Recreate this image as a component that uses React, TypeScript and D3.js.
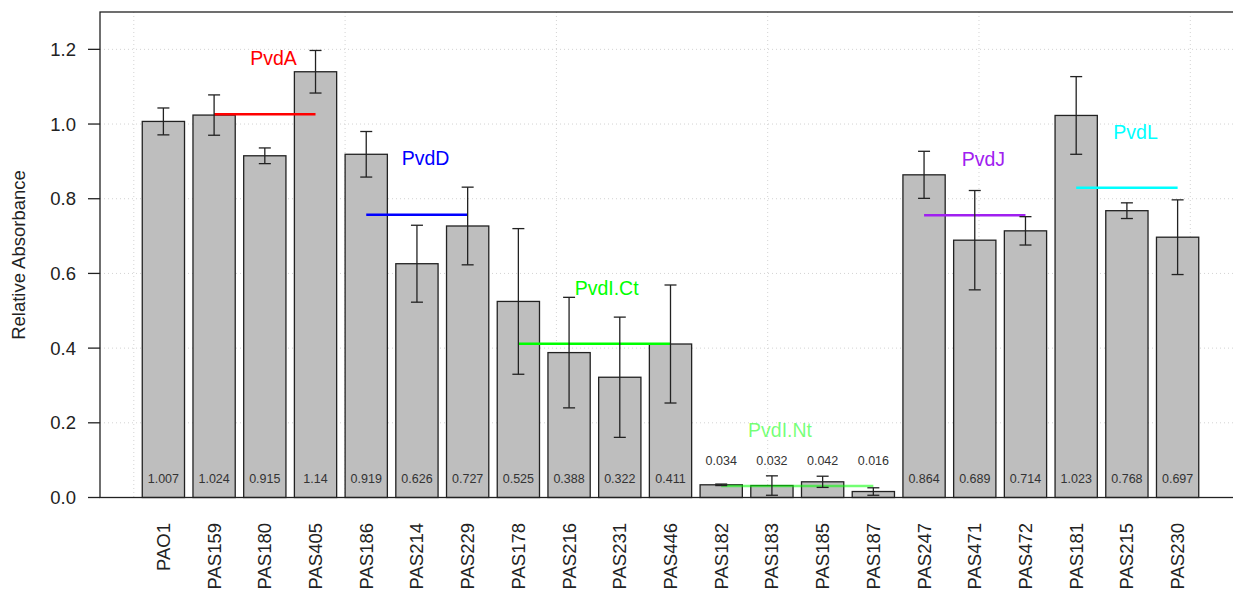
import React from 'react';
import * as d3 from 'd3';

// strains, in plotting order
const samples = [
  'PAO1', 'PAS159', 'PAS180', 'PAS405', 'PAS186', 'PAS214', 'PAS229',
  'PAS178', 'PAS216', 'PAS231', 'PAS446', 'PAS182', 'PAS183', 'PAS185',
  'PAS187', 'PAS247', 'PAS471', 'PAS472', 'PAS181', 'PAS215', 'PAS230',
];
const means = [
  1.007, 1.024, 0.915, 1.14, 0.919, 0.626, 0.727,
  0.525, 0.388, 0.322, 0.411, 0.034, 0.032, 0.042,
  0.016, 0.864, 0.689, 0.714, 1.023, 0.768, 0.697,
];
const errors = [
  0.036, 0.054, 0.021, 0.057, 0.061, 0.103, 0.104,
  0.195, 0.148, 0.161, 0.158, 0.002, 0.026, 0.015,
  0.010, 0.063, 0.133, 0.038, 0.104, 0.021, 0.100,
];

// pyoverdine groups (first / last bar index)
const groupNames = ['PvdA', 'PvdD', 'PvdI.Ct', 'PvdI.Nt', 'PvdJ', 'PvdL'];
const groupStart = [1, 4, 7, 11, 15, 18];
const groupEnd = [3, 6, 10, 14, 17, 20];
const groupColors = ['#FF0000', '#0000FF', '#00FF00', '#00FF00', '#A020F0', '#00FFFF'];
const groupAlpha = [1, 1, 1, 0.55, 1, 1];
const labelNudge = [0.17, 0.17, 0.24, -0.34, 0.17, 0.17]; // in bar-index units

const yTicks = [0, 0.2, 0.4, 0.6, 0.8, 1.0, 1.2];
const xGrid = [0, 5, 10, 15, 20, 25];

const W = 1233;
const H = 591;
const FONT = '"Liberation Sans", Arial, Helvetica, sans-serif';

const App = () => {
  // barplot units: width 1, space 0.2
  const x = d3.scaleLinear().domain([-0.8, 26.2]).range([100, 1241]);
  const y = d3.scaleLinear().domain([0, 1.3]).range([497.5, 12]);
  const mid = (i: number) => 0.7 + 1.2 * i;
  const bw = x(1) - x(0);

  const groupMean = (g: number) =>
    d3.mean(means.slice(groupStart[g], groupEnd[g] + 1)) as number;

  return (
    <div style={{ position: 'absolute', left: 0, top: 0 }}>
      <svg width={W} height={H} style={{ display: 'block', background: '#fff' }} fontFamily={FONT}>
        {/* grid */}
        {yTicks.map(t => (
          <line key={'gy' + t} x1={100} x2={1241} y1={y(t)} y2={y(t)}
            stroke="#D3D3D3" strokeDasharray="1,3" />
        ))}
        {xGrid.map(t => (
          <line key={'gx' + t} x1={x(t)} x2={x(t)} y1={12} y2={497.5}
            stroke="#D3D3D3" strokeDasharray="1,3" />
        ))}

        {/* bars */}
        {means.map((m, i) => (
          <rect key={'b' + i} x={x(mid(i)) - bw / 2} y={y(m)} width={bw} height={y(0) - y(m)}
            fill="#BEBEBE" stroke="#222" strokeWidth={1.3} />
        ))}

        {/* group mean lines */}
        {groupNames.map((g, k) => (
          <line key={'gl' + g} x1={x(mid(groupStart[k]))} x2={x(mid(groupEnd[k]))}
            y1={y(groupMean(k))} y2={y(groupMean(k))}
            stroke={groupColors[k]} strokeOpacity={groupAlpha[k]} strokeWidth={2.5} />
        ))}

        {/* error bars */}
        {means.map((m, i) => {
          const cx = x(mid(i));
          const top = y(m + errors[i]);
          const bot = y(Math.max(0, m - errors[i]));
          return (
            <g key={'e' + i} stroke="#222" strokeWidth={1.3}>
              <line x1={cx} x2={cx} y1={top} y2={bot} />
              <line x1={cx - 6} x2={cx + 6} y1={top} y2={top} />
              <line x1={cx - 6} x2={cx + 6} y1={bot} y2={bot} />
            </g>
          );
        })}

        {/* value labels */}
        {means.map((m, i) => (
          <text key={'v' + i} x={x(mid(i))} y={y(m > 0.1 ? 0.05 : 0.1)} dy="0.35em"
            textAnchor="middle" fontSize={12.5} fill="#333">
            {m}
          </text>
        ))}

        {/* group labels */}
        {groupNames.map((g, k) => (
          <text key={'gt' + g}
            x={x(mid((groupStart[k] + groupEnd[k]) / 2 + labelNudge[k]))}
            y={y(groupMean(k) + 0.15)} dy="0.35em" textAnchor="middle"
            fontSize={19.5} fill={groupColors[k]} fillOpacity={groupAlpha[k]}>
            {g}
          </text>
        ))}

        {/* frame */}
        <rect x={100} y={12} width={1141} height={485.5} fill="none" stroke="#222" strokeWidth={1.3} />

        {/* y axis */}
        {yTicks.map(t => (
          <g key={'yt' + t}>
            <line x1={88} x2={100} y1={y(t)} y2={y(t)} stroke="#222" strokeWidth={1.3} />
            <text x={76} y={y(t)} dy="0.35em" textAnchor="end" fontSize={18.5} fill="#222">
              {t.toFixed(1)}
            </text>
          </g>
        ))}
        <text transform={`translate(18.5,255) rotate(-90)`} dy="0.35em" textAnchor="middle"
          fontSize={18.5} fill="#222">
          Relative Absorbance
        </text>

        {/* x labels */}
        {samples.map((s, i) => (
          <text key={'xl' + s} transform={`translate(${x(mid(i))},523) rotate(-90)`} dy="0.35em"
            textAnchor="end" fontSize={18.5} fill="#222">
            {s}
          </text>
        ))}
      </svg>
    </div>
  );
};

export default App;
